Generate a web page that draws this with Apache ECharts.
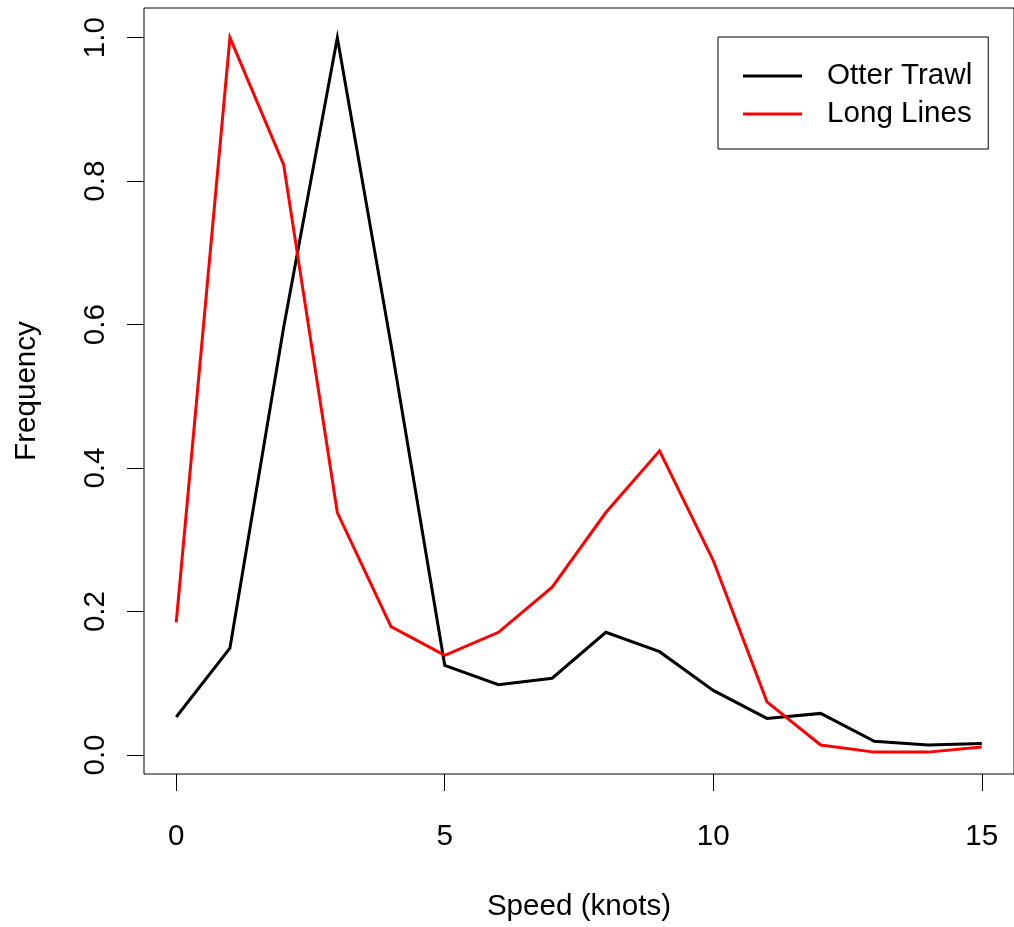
<!DOCTYPE html>
<html>
<head>
<meta charset="utf-8">
<script src="https://cdn.jsdelivr.net/npm/echarts@6/dist/echarts.min.js"></script>
<style>
  html, body { margin: 0; padding: 0; background: #fff; }
  #chart { width: 1014px; height: 927px; }
</style>
</head>
<body>
<div id="chart"></div>
<script>
// ---- data ----
const speeds = [0, 1, 2, 3, 4, 5, 6, 7, 8, 9, 10, 11, 12, 13, 14, 15];
const otterTrawl = [0.053, 0.149, 0.596, 1.0, 0.572, 0.125, 0.098, 0.107, 0.171, 0.144, 0.090, 0.051, 0.058, 0.019, 0.014, 0.016];
const longLines  = [0.185, 1.0, 0.823, 0.338, 0.179, 0.139, 0.171, 0.234, 0.338, 0.424, 0.271, 0.074, 0.014, 0.004, 0.004, 0.011];
const seriesNames = ['Otter Trawl', 'Long Lines'];
const xTicks = [0, 5, 10, 15];
const yTicks = [0.0, 0.2, 0.4, 0.6, 0.8, 1.0];
const xTitle = 'Speed (knots)';
const yTitle = 'Frequency';

const FONT = "'Liberation Sans', Arial, sans-serif";
const FS = 29.6;
const chart = echarts.init(document.getElementById('chart'), null, { renderer: 'canvas' });

const toPairs = (xs, ys) => xs.map((x, i) => [x, ys[i]]);

chart.setOption({
  animation: false,
  backgroundColor: '#ffffff',
  grid: {
    left: 144, right: -7, top: 8, bottom: 152,
    show: true, borderColor: '#000', borderWidth: 1, backgroundColor: 'transparent'
  },
  legend: {
    data: seriesNames,
    orient: 'vertical',
    left: 718, top: 37,
    padding: [24, 16, 20, 25],
    itemGap: 8,
    itemWidth: 59, itemHeight: 3,
    icon: 'rect',
    borderColor: '#000', borderWidth: 1,
    backgroundColor: '#fff',
    textStyle: { fontFamily: FONT, fontSize: FS, color: '#000', padding: [0, 0, 0, 20] }
  },
  xAxis: {
    type: 'value',
    min: -0.6, max: 15.6,
    name: xTitle,
    nameLocation: 'middle',
    nameGap: 118,
    nameTextStyle: { fontFamily: FONT, fontSize: FS, color: '#000' },
    axisLine: { show: false, onZero: false },
    splitLine: { show: false },
    axisTick: { show: true, inside: false, length: 17, customValues: xTicks, lineStyle: { color: '#000', width: 1 } },
    axisLabel: {
      customValues: xTicks, margin: 48,
      fontFamily: FONT, fontSize: FS, color: '#000',
      formatter: v => String(v)
    }
  },
  yAxis: {
    type: 'value',
    min: -0.0265, max: 1.0413,
    name: yTitle,
    nameLocation: 'middle',
    nameGap: 102,
    nameRotate: 90,
    nameTextStyle: { fontFamily: FONT, fontSize: FS, color: '#000' },
    axisLine: { show: false, onZero: false },
    splitLine: { show: false },
    axisTick: { show: true, inside: false, length: 17, customValues: yTicks, lineStyle: { color: '#000', width: 1 } },
    axisLabel: {
      customValues: yTicks, margin: 33, rotate: 90,
      fontFamily: FONT, fontSize: FS, color: '#000',
      formatter: v => Number(v).toFixed(1)
    }
  },
  series: [
    {
      name: seriesNames[0], type: 'line', symbol: 'none', smooth: false,
      data: toPairs(speeds, otterTrawl),
      itemStyle: { color: '#000000' },
      lineStyle: { color: '#000000', width: 3, join: 'miter' }
    },
    {
      name: seriesNames[1], type: 'line', symbol: 'none', smooth: false,
      data: toPairs(speeds, longLines),
      itemStyle: { color: '#ff0000' },
      lineStyle: { color: '#ff0000', width: 3, join: 'miter' }
    }
  ]
});
</script>
</body>
</html>
